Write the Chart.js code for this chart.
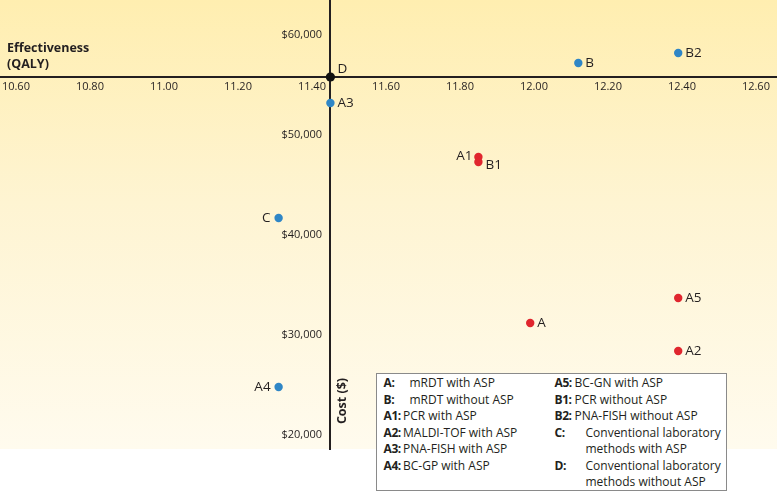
<!DOCTYPE html>
<html>
<head>
<meta charset="utf-8">
<script src="https://cdn.jsdelivr.net/npm/chart.js@4/dist/chart.umd.min.js"></script>
<style>
  html, body { margin: 0; padding: 0; background: #ffffff; }
  #wrap { position: relative; width: 777px; height: 492px; overflow: hidden; }
  #c { position: absolute; left: 0; top: 0; }
  #legend {
    position: absolute; left: 376px; top: 373px; width: 351px; height: 118px;
    border: 1.5px solid #8a8a8a; background: #ffffff; box-sizing: border-box;
    font-family: "Open Sans", sans-serif; font-size: 12px; color: #231f20;
    line-height: 16.5px;
  }
  .col { position: absolute; top: 1px; }
  .row { position: relative; white-space: nowrap; }
  .row b { position: absolute; left: 0; font-weight: 700; letter-spacing: -0.4px; }
</style>
</head>
<body>
<div id="wrap">
  <canvas id="c" width="777" height="492"></canvas>
  <div id="legend"></div>
</div>
<script>
// ---- data ----
const blueLabels = ['B', 'B2', 'A3', 'C', 'A4'];
const blueQaly   = [12.12, 12.39, 11.45, 11.31, 11.31];
const blueCost   = [57200, 58200, 53200, 41700, 24800];

const redLabels  = ['A1', 'B1', 'A', 'A5', 'A2'];
const redQaly    = [11.85, 11.85, 11.99, 12.39, 12.39];
const redCost    = [47800, 47300, 31200, 33700, 28400];

const refLabels  = ['D'];
const refQaly    = [11.45];
const refCost    = [55800];

const xTicks = [10.6, 10.8, 11.0, 11.2, 11.4, 11.6, 11.8, 12.0, 12.2, 12.4, 12.6];
const yTicks = [20000, 30000, 40000, 50000, 60000];

const legendLeft = [
  ['A:', 'mRDT with ASP'],
  ['B:', 'mRDT without ASP'],
  ['A1:', 'PCR with ASP'],
  ['A2:', 'MALDI-TOF with ASP'],
  ['A3:', 'PNA-FISH with ASP'],
  ['A4:', 'BC-GP with ASP']
];
const legendRight = [
  ['A5:', 'BC-GN with ASP'],
  ['B1:', 'PCR without ASP'],
  ['B2:', 'PNA-FISH without ASP'],
  ['C:', 'Conventional laboratory<br>methods with ASP'],
  ['D:', 'Conventional laboratory<br>methods without ASP']
];

// label placement (style)
const placement = { C: 'left', A4: 'left', A1: 'leftup', B1: 'rightdown', D: 'upright' };

// ---- legend (HTML text) ----
function buildCol(items, left, indentShort, indentLong) {
  const col = document.createElement('div');
  col.className = 'col';
  col.style.left = left + 'px';
  items.forEach(([k, t]) => {
    const r = document.createElement('div');
    r.className = 'row';
    r.style.paddingLeft = (k.length > 2 ? indentLong : indentShort) + 'px';
    r.innerHTML = '<b>' + k + '</b>' + t;
    col.appendChild(r);
  });
  document.getElementById('legend').appendChild(col);
}
buildCol(legendLeft, 6.5, 26, 19.5);
buildCol(legendRight, 177.5, 31, 20);

const mk = (xs, ys, ls) => xs.map((x, i) => ({ x: x, y: ys[i], label: ls[i] }));

const bgPlugin = {
  id: 'bg',
  beforeDraw(chart) {
    const { ctx, chartArea: a } = chart;
    const g = ctx.createLinearGradient(0, a.top, 0, a.bottom);
    g.addColorStop(0, '#ffeeb0');
    g.addColorStop(0.45, '#fef4d2');
    g.addColorStop(1, '#fffbee');
    ctx.save();
    ctx.fillStyle = g;
    ctx.fillRect(0, a.top, chart.width, a.bottom - a.top);
    ctx.restore();
  }
};

const labelPlugin = {
  id: 'pointLabels',
  afterDatasetsDraw(chart) {
    const ctx = chart.ctx;
    ctx.save();
    ctx.font = '13.5px "Open Sans", sans-serif';
    ctx.fillStyle = '#231f20';
    chart.data.datasets.forEach((ds, di) => {
      const meta = chart.getDatasetMeta(di);
      meta.data.forEach((pt, i) => {
        const lab = ds.data[i].label;
        const p = placement[lab] || 'right';
        let x = pt.x, y = pt.y;
        ctx.textBaseline = 'middle';
        if (p === 'left') { ctx.textAlign = 'right'; x -= 8; }
        else if (p === 'leftup') { ctx.textAlign = 'right'; x -= 6; y -= 1; }
        else if (p === 'rightdown') { ctx.textAlign = 'left'; x += 7; y += 3; }
        else if (p === 'upright') { ctx.textAlign = 'left'; x += 7; y -= 8; }
        else { ctx.textAlign = 'left'; x += 7; }
        ctx.fillText(lab, x, y);
      });
    });
    // axis titles
    ctx.font = 'bold 12.5px "Open Sans", sans-serif';
    ctx.textAlign = 'left';
    ctx.textBaseline = 'middle';
    ctx.fillText('Effectiveness', 7, 48);
    ctx.fillText('(QALY)', 7, 64);
    ctx.translate(342, 401);
    ctx.rotate(-Math.PI / 2);
    ctx.textAlign = 'center';
    ctx.fillText('Cost ($)', 0, 0);
    ctx.restore();
  }
};

const noPad = s => { s.paddingTop = 0; s.paddingBottom = 0; s.paddingLeft = 0; s.paddingRight = 0; };

new Chart(document.getElementById('c'), {
  type: 'scatter',
  data: {
    datasets: [
      { data: mk(blueQaly, blueCost, blueLabels), backgroundColor: '#2f86c6', borderWidth: 0, pointRadius: 4.2 },
      { data: mk(redQaly, redCost, redLabels), backgroundColor: '#e0262e', borderWidth: 0, pointRadius: 4.2 },
      { data: mk(refQaly, refCost, refLabels), backgroundColor: '#111111', borderWidth: 0, pointRadius: 4.6 }
    ]
  },
  options: {
    responsive: false,
    animation: false,
    events: [],
    layout: { autoPadding: false, padding: { left: 0, right: 0, top: 0, bottom: 43 } },
    plugins: { legend: { display: false }, tooltip: { enabled: false } },
    scales: {
      x: {
        type: 'linear',
        position: { y: refCost[0] },
        min: 10.557, max: 12.657,
        afterFit: s => { s.height = 0; noPad(s); },
        afterBuildTicks: s => { s.ticks = xTicks.map(v => ({ value: v })); },
        grid: { display: false, drawTicks: false },
        border: { display: true, color: '#231f20', width: 2 },
        ticks: {
          padding: 3,
          color: '#231f20',
          font: { family: '"Open Sans", sans-serif', size: 11 },
          maxRotation: 0,
          autoSkip: false,
          callback: v => Number(v).toFixed(2)
        }
      },
      y: {
        type: 'linear',
        position: { x: refQaly[0] },
        min: 18600, max: 63500,
        afterFit: s => { s.width = 0; noPad(s); },
        afterBuildTicks: s => { s.ticks = yTicks.map(v => ({ value: v })); },
        grid: { display: false, drawTicks: false },
        border: { display: true, color: '#231f20', width: 2 },
        ticks: {
          padding: 7,
          color: '#231f20',
          font: { family: '"Open Sans", sans-serif', size: 11 },
          autoSkip: false,
          callback: v => '$' + Number(v).toLocaleString('en-US') + '\u2002 '
        }
      }
    }
  },
  plugins: [bgPlugin, labelPlugin]
});
</script>
</body>
</html>
